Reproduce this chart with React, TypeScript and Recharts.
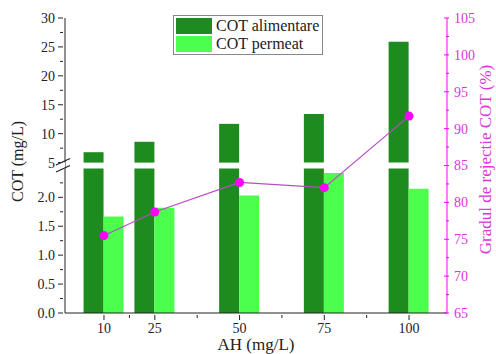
import { ComposedChart, Bar, Line, XAxis, YAxis, Legend } from 'recharts'

const doses = [10, 25, 50, 75, 100]
const feedCOT = [6.8, 8.6, 11.7, 13.4, 25.9]
const permeateCOT = [1.67, 1.82, 2.03, 2.42, 2.15]
const rejection = [75.5, 78.7, 82.7, 82.0, 91.7]

const lowTicks = [0, 0.5, 1, 1.5, 2]
const highTicks = [5, 10, 15, 20, 25, 30]
const rightTicks = [65, 70, 75, 80, 85, 90, 95, 100, 105]

const FEED = '#1e8b1e'
const PERM = '#4dff4d'
const MAGENTA = '#ff00ff'
const MAGENTA_TEXT = '#d936d9'
const LINE = '#b54ec2'
const INK = '#222'
const FONT = '"Liberation Serif", "DejaVu Serif", "Times New Roman", serif'

// broken left axis: 0-2.5 at full scale, then 5-30 squeezed 10x above a small gap
const LOW_TOP = 2.5
const HIGH_BOTTOM = 5
const HIGH_TOP = 30
const HIGH_SCALE = 0.1
const GAP = 0.1
const toAxis = (v: number) => (v <= LOW_TOP ? v : LOW_TOP + GAP + (v - HIGH_BOTTOM) * HIGH_SCALE)
const BREAK = LOW_TOP + GAP / 2

type TickKind = 'major' | 'minor' | 'break'
type TickInfo = { pos: number; label: string; kind: TickKind }

const leftTicks: TickInfo[] = [
  ...lowTicks.map((v) => ({ pos: toAxis(v), label: v.toFixed(1), kind: 'major' as TickKind })),
  ...lowTicks.map((v) => ({ pos: toAxis(v + 0.25), label: '', kind: 'minor' as TickKind })),
  ...highTicks.map((v) => ({ pos: toAxis(v), label: String(v), kind: 'major' as TickKind })),
  ...highTicks.slice(0, -1).map((v) => ({ pos: toAxis(v + 2.5), label: '', kind: 'minor' as TickKind })),
  { pos: BREAK, label: '', kind: 'break' },
]
const rightMinor = rightTicks.slice(0, -1).map((v) => v + 2.5)
const xMinor = doses.slice(0, -1).map((v, i) => (v + doses[i + 1]) / 2)

const rows = doses.map((dose, i) => ({
  dose,
  feedLow: Math.min(feedCOT[i], LOW_TOP),
  feedGap: feedCOT[i] > HIGH_BOTTOM ? GAP : 0,
  feedHigh: Math.max(feedCOT[i] - HIGH_BOTTOM, 0) * HIGH_SCALE,
  permeate: toAxis(permeateCOT[i]),
  rejection: rejection[i],
}))

function LeftTick({ x, y, payload }: any) {
  const t = leftTicks.find((k) => Math.abs(k.pos - payload.value) < 1e-6)
  if (!t) return null
  if (t.kind === 'break') {
    return (
      <g>
        <rect x={x - 2} y={y - 3} width={4} height={6} fill="#fff" />
        <line x1={x - 7} y1={y - 0.5} x2={x + 7} y2={y - 7} stroke={INK} strokeWidth={1.2} />
        <line x1={x - 7} y1={y + 6.5} x2={x + 7} y2={y} stroke={INK} strokeWidth={1.2} />
      </g>
    )
  }
  const len = t.kind === 'major' ? 5 : 3
  return (
    <g>
      <line x1={x - len} y1={y} x2={x} y2={y} stroke={INK} />
      {t.label && (
        <text x={x - 8} y={y} dy="0.35em" textAnchor="end" fontSize={14} fontFamily={FONT} fill={INK}>
          {t.label}
        </text>
      )}
    </g>
  )
}

function RightTick({ x, y, payload }: any) {
  const major = rightTicks.includes(payload.value)
  return (
    <g>
      <line x1={x - (major ? 5 : 3)} y1={y} x2={x} y2={y} stroke={MAGENTA} />
      {major && (
        <text x={x + 5} y={y} dy="0.35em" textAnchor="start" fontSize={14} fontFamily={FONT} fill={MAGENTA_TEXT}>
          {payload.value}
        </text>
      )}
    </g>
  )
}

function BottomTick({ x, y, payload }: any) {
  const major = doses.includes(payload.value)
  return (
    <g>
      <line x1={x} y1={y} x2={x} y2={y + (major ? 5 : 3)} stroke={INK} />
      {major && (
        <text x={x} y={y + 8} dy="0.71em" textAnchor="middle" fontSize={14} fontFamily={FONT} fill={INK}>
          {payload.value}
        </text>
      )}
    </g>
  )
}

function LeftTitle({ viewBox }: any) {
  const cx = viewBox.x + 17
  const cy = viewBox.y + viewBox.height / 2 - 4
  return (
    <text x={cx} y={cy} transform={`rotate(-90 ${cx} ${cy})`} textAnchor="middle" dominantBaseline="central" fontSize={16} fontFamily={FONT} fill={INK}>
      COT (mg/L)
    </text>
  )
}

function RightTitle({ viewBox }: any) {
  const cx = viewBox.x + 38
  const cy = viewBox.y + viewBox.height / 2 - 6
  return (
    <text x={cx} y={cy} transform={`rotate(-90 ${cx} ${cy})`} textAnchor="middle" dominantBaseline="central" fontSize={17} fontFamily={FONT} fill={MAGENTA_TEXT}>
      Gradul de rejectie COT (%)
    </text>
  )
}

function BottomTitle({ viewBox }: any) {
  return (
    <text x={viewBox.x + viewBox.width / 2} y={viewBox.y + 37} textAnchor="middle" fontSize={17} fontFamily={FONT} fill={INK}>
      AH (mg/L)
    </text>
  )
}

function LegendBox({ payload }: any) {
  const items = (payload || []).filter((p: any) => p.type !== 'none')
  return (
    <div style={{ border: '1px solid #888', padding: '1px 3px 1px 2px', background: '#fff', fontFamily: FONT }}>
      {items.map((p: any) => (
        <div key={p.value} style={{ display: 'flex', alignItems: 'center', height: 18 }}>
          <span style={{ width: 36, height: 16, background: p.color, marginRight: 4 }} />
          <span style={{ fontSize: 16, color: INK, lineHeight: '18px', fontFamily: FONT }}>{p.value}</span>
        </div>
      ))}
    </div>
  )
}

export default function App() {
  return (
    <div style={{ position: 'absolute', left: 0, top: 0, width: 496, height: 354, background: '#fff', fontFamily: FONT }}>
      <ComposedChart width={496} height={354} data={rows} margin={{ top: 18, right: 0, bottom: 0, left: 0 }} barSize={20} barGap={0}>
        <XAxis
          dataKey="dose"
          type="number"
          domain={[-1.5, 111.2]}
          ticks={[...doses, ...xMinor].sort((a, b) => a - b)}
          interval={0}
          tickSize={0}
          tick={BottomTick}
          axisLine={{ stroke: INK }}
          height={41}
          label={{ content: BottomTitle }}
        />
        <YAxis
          yAxisId="left"
          width={65}
          domain={[0, toAxis(HIGH_TOP)]}
          ticks={leftTicks.map((t) => t.pos)}
          interval={0}
          tickSize={0}
          tick={LeftTick}
          axisLine={{ stroke: INK }}
          label={{ content: LeftTitle }}
        />
        <YAxis
          yAxisId="right"
          orientation="right"
          width={49}
          domain={[65, 105]}
          ticks={[...rightTicks, ...rightMinor].sort((a, b) => a - b)}
          interval={0}
          tickSize={0}
          tick={RightTick}
          axisLine={{ stroke: MAGENTA }}
          label={{ content: RightTitle }}
        />
        <Bar yAxisId="left" dataKey="feedLow" stackId="feed" fill={FEED} name="COT alimentare" isAnimationActive={false} />
        <Bar yAxisId="left" dataKey="feedGap" stackId="feed" fill="#fff" fillOpacity={0} legendType="none" isAnimationActive={false} />
        <Bar yAxisId="left" dataKey="feedHigh" stackId="feed" fill={FEED} legendType="none" isAnimationActive={false} />
        <Bar yAxisId="left" dataKey="permeate" fill={PERM} name="COT permeat" isAnimationActive={false} />
        <Line
          yAxisId="right"
          dataKey="rejection"
          stroke={LINE}
          strokeWidth={1.2}
          dot={{ r: 4.5, fill: MAGENTA, stroke: MAGENTA, strokeWidth: 0 }}
          legendType="none"
          isAnimationActive={false}
        />
        <Legend layout="vertical" align="center" verticalAlign="middle" wrapperStyle={{ left: 173, top: 15 }} content={LegendBox} />
      </ComposedChart>
    </div>
  )
}
